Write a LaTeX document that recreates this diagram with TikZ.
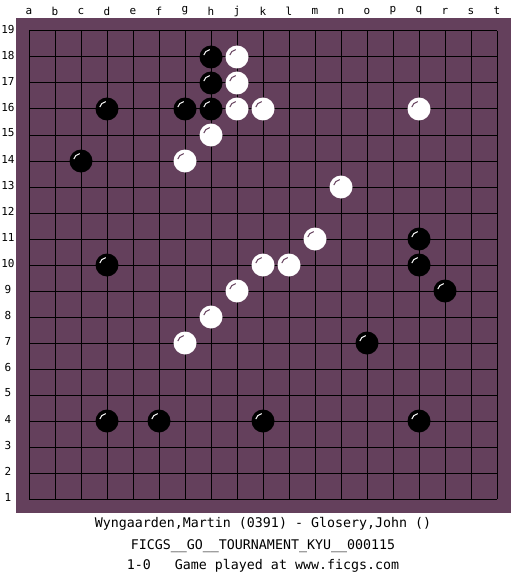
\documentclass[tikz,border=0pt]{standalone}
\usepackage{fontspec}
\setmonofont{DejaVu Sans Mono}

\definecolor{boardbg}{RGB}{100,64,92}

\tikzset{
  gridline/.style={draw=black,line width=1pt},
  coordlabel/.style={font=\fontsize{11}{13}\selectfont\ttfamily,inner sep=0pt},
  infoline/.style={font=\fontsize{13.3}{16}\selectfont\ttfamily,inner sep=0pt},
  blackstone/.style={fill=black},
  whitestone/.style={fill=white},
  shine/.style={line width=1pt}
}

\begin{document}
\begin{tikzpicture}[x=1pt,y=-1pt]
\useasboundingbox[fill=white] (0,0) rectangle (525,575);

% board
\fill[boardbg] (16,18) rectangle (511,513);
\foreach \k in {0,...,18} {
  \draw[gridline] ({29+26*\k},31) -- ({29+26*\k},499);
  \draw[gridline] (29,{31+26*\k}) -- (497,{31+26*\k});
}

% coordinates
\foreach \l [count=\k from 0] in {a,b,c,d,e,f,g,h,j,k,l,m,n,o,p,q,r,s,t}
  \node[coordlabel] (col-\l) at ({29+26*\k},11) {\l};
\foreach \n in {1,...,19}
  \node[coordlabel] (row-\n) at (8,{497-26*(\n-1)}) {\n};

% black stones
\foreach \c/\r in {7/18,7/17,3/16,6/16,7/16,2/14,15/11,3/10,15/10,16/9,13/7,3/4,5/4,9/4,15/4} {
  \fill[blackstone] ({29+26*\c},{499-26*(\r-1)}) circle (11.5pt);
  \draw[shine,white] ({29+26*\c},{499-26*(\r-1)}) ++(165:7.5pt) arc[start angle=165,end angle=100,radius=7.5pt];
}

% white stones
\foreach \c/\r in {8/18,8/17,8/16,9/16,15/16,7/15,6/14,12/13,11/11,9/10,10/10,8/9,7/8,6/7} {
  \fill[whitestone] ({29+26*\c},{499-26*(\r-1)}) circle (11.5pt);
  \draw[shine,boardbg] ({29+26*\c},{499-26*(\r-1)}) ++(165:7.5pt) arc[start angle=165,end angle=100,radius=7.5pt];
}

% game info
\node[infoline] (players) at (263,524) {Wyngaarden,Martin (0391) - Glosery,John ()};
\node[infoline] (event) at (263,546) {FICGS\_\_GO\_\_TOURNAMENT\_KYU\_\_000115};
\node[infoline] (result) at (263,566) {1-0~~~Game played at www.ficgs.com};
\end{tikzpicture}
\end{document}
